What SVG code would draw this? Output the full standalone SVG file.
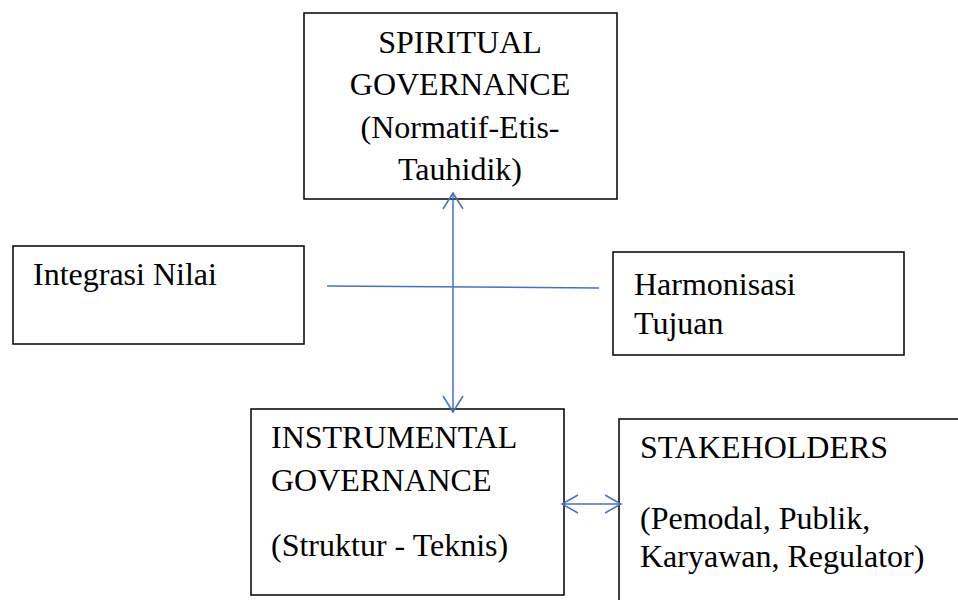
<svg xmlns="http://www.w3.org/2000/svg" width="958" height="600" viewBox="0 0 958 600">
<style>
.box{fill:#fff;stroke:#000;stroke-width:1.5}
.t{font-family:"Liberation Serif","Times New Roman",serif;font-size:32px;fill:#000}
.c{text-anchor:middle}
.ln{stroke:#4472C4;stroke-width:1.5;fill:none}
</style>
<rect width="958" height="600" fill="#fff"/>
<g id="spiritual">
<rect class="box" x="304" y="13" width="313" height="186"/>
<text class="t c" x="460" y="53">SPIRITUAL</text>
<text class="t c" x="460" y="95">GOVERNANCE</text>
<text class="t c" x="460" y="138">(Normatif-Etis-</text>
<text class="t c" x="460" y="180">Tauhidik)</text>
</g>
<g id="integrasi">
<rect class="box" x="13" y="246" width="291" height="98"/>
<text class="t" x="33" y="285">Integrasi Nilai</text>
</g>
<g id="harmonisasi">
<rect class="box" x="613" y="252" width="291" height="103"/>
<text class="t" x="634" y="295">Harmonisasi</text>
<text class="t" x="634" y="334">Tujuan</text>
</g>
<g id="instrumental">
<rect class="box" x="251" y="409" width="313" height="186"/>
<text class="t" x="271" y="448">INSTRUMENTAL</text>
<text class="t" x="271" y="491">GOVERNANCE</text>
<text class="t" x="271" y="556">(Struktur - Teknis)</text>
</g>
<g id="stakeholders">
<rect class="box" x="619" y="419" width="360" height="200"/>
<text class="t" x="640" y="458">STAKEHOLDERS</text>
<text class="t" x="640" y="529">(Pemodal, Publik,</text>
<text class="t" x="640" y="567">Karyawan, Regulator)</text>
</g>
<g id="connectors">
<line class="ln" x1="327" y1="286" x2="599" y2="288"/>
<line class="ln" x1="453" y1="193" x2="453" y2="412"/>
<polyline class="ln" points="443,209 453,193 463,209"/>
<polyline class="ln" points="443,396 453,412 463,396"/>
<line class="ln" x1="562" y1="504" x2="621" y2="504"/>
<polyline class="ln" points="578,495 562,504 578,513"/>
<polyline class="ln" points="605,495 621,504 605,513"/>
</g>
</svg>
